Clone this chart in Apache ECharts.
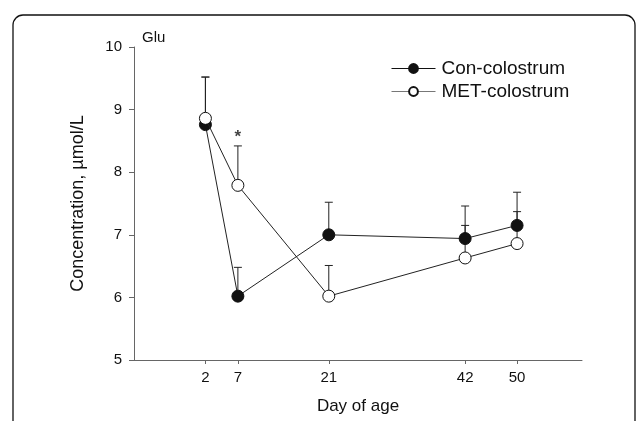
<!DOCTYPE html>
<html>
<head>
<meta charset="utf-8">
<script src="https://cdn.jsdelivr.net/npm/echarts@6/dist/echarts.min.js"></script>
<style>
  html, body { margin: 0; padding: 0; background: #fff; }
  #chart { width: 637px; height: 421px; }
</style>
</head>
<body>
<div id="chart"></div>
<script>
var days = [2, 7, 21, 42, 50];
var conMean = [8.76, 6.02, 7.00, 6.94, 7.15];
var conErr = [0.76, 0.46, 0.52, 0.52, 0.53];
var metMean = [8.86, 7.79, 6.02, 6.63, 6.86];
var metErr = [0.66, 0.63, 0.49, 0.52, 0.51];
var yTicks = [5, 6, 7, 8, 9, 10];
var sigMarks = [[7, 8.42]];

var font = '"Liberation Sans", Arial, sans-serif';

function pairs(xs, ys) {
    return xs.map(function (x, i) { return [x, ys[i]]; });
}
function errData(xs, ys, es) {
    return xs.map(function (x, i) { return [x, ys[i], es[i]]; });
}

// upward-only error bars with a small cap
function renderErr(params, api) {
    var x = api.value(0), y = api.value(1), e = api.value(2);
    var p0 = api.coord([x, y]);
    var p1 = api.coord([x, y + e]);
    var style = { stroke: '#222', lineWidth: 1 };
    return {
        type: 'group',
        children: [
            { type: 'line', shape: { x1: p0[0], y1: p0[1], x2: p1[0], y2: p1[1] }, style: style },
            { type: 'line', shape: { x1: p1[0] - 4, y1: p1[1], x2: p1[0] + 4, y2: p1[1] }, style: style }
        ]
    };
}

var myChart = echarts.init(document.getElementById('chart'));

myChart.setOption({
    backgroundColor: '#fff',
    animation: false,
    textStyle: { fontFamily: font },
    graphic: [
        {
            type: 'rect',
            shape: { x: 13, y: 15, width: 622, height: 440, r: 10 },
            style: { fill: 'none', stroke: '#111', lineWidth: 1.3 }
        },
        {
            type: 'text',
            left: 142, top: 30,
            style: { text: 'Glu', font: '15px ' + font, fill: '#111' }
        }
    ],
    grid: { left: 134, right: 55, top: 47, bottom: 61 },
    legend: {
        orient: 'vertical',
        left: 386,
        top: 54,
        itemWidth: 44,
        itemHeight: 11,
        itemGap: 4,
        textStyle: { fontSize: 19, color: '#111', lineHeight: 19, padding: [0, 0, 0, 1] },
        data: [
            { name: 'Con-colostrum', lineStyle: { color: '#111', width: 1 } },
            { name: 'MET-colostrum', lineStyle: { color: '#777', width: 1 } }
        ]
    },
    xAxis: {
        type: 'value',
        min: -9,
        max: 60,
        name: 'Day of age',
        nameLocation: 'middle',
        nameGap: 38,
        nameTextStyle: { fontSize: 17, color: '#111' },
        axisLine: { onZero: false, lineStyle: { color: '#666', width: 1 } },
        axisTick: { customValues: days, length: 4, lineStyle: { color: '#666' } },
        axisLabel: { customValues: days, fontSize: 15, color: '#111', margin: 10 },
        splitLine: { show: false }
    },
    yAxis: {
        type: 'value',
        min: 5,
        max: 10,
        interval: 1,
        name: 'Concentration, \u00b5mol/L',
        nameLocation: 'middle',
        nameGap: 47,
        nameTextStyle: { fontSize: 18, color: '#111' },
        axisLine: { show: true, onZero: false, lineStyle: { color: '#666', width: 1 } },
        axisTick: { show: true, length: 5, lineStyle: { color: '#666' } },
        axisLabel: { fontSize: 15, color: '#111', margin: 12 },
        splitLine: { show: false }
    },
    series: [
        {
            name: 'conErr',
            type: 'custom',
            renderItem: renderErr,
            data: errData(days, conMean, conErr),
            z: 1
        },
        {
            name: 'metErr',
            type: 'custom',
            renderItem: renderErr,
            data: errData(days, metMean, metErr),
            z: 1
        },
        {
            name: 'Con-colostrum',
            type: 'line',
            data: pairs(days, conMean),
            symbol: 'circle',
            symbolSize: 12,
            showAllSymbol: true,
            lineStyle: { color: '#222', width: 1 },
            itemStyle: { color: '#111', borderColor: '#111', borderWidth: 1 },
            z: 3
        },
        {
            name: 'MET-colostrum',
            type: 'line',
            data: pairs(days, metMean),
            symbol: 'circle',
            symbolSize: 12,
            showAllSymbol: true,
            lineStyle: { color: '#222', width: 1 },
            itemStyle: { color: '#fff', borderColor: '#111', borderWidth: 1 },
            z: 4
        },
        {
            name: 'sig',
            type: 'scatter',
            data: sigMarks,
            symbolSize: 0,
            silent: true,
            label: {
                show: true,
                formatter: '*',
                position: 'top',
                distance: 0,
                fontSize: 17,
                fontWeight: 'bold',
                color: '#111'
            },
            z: 5
        }
    ]
});
</script>
</body>
</html>
